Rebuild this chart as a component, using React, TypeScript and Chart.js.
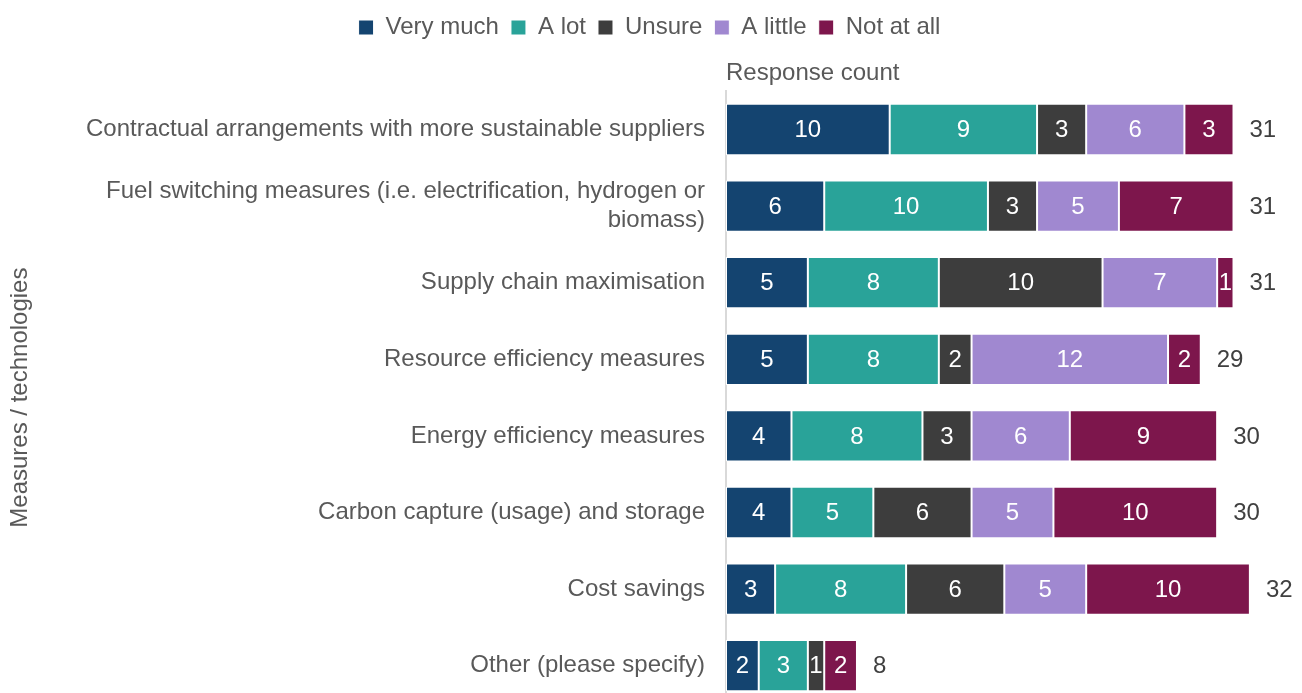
import React, { useEffect, useRef } from "react";
import { Chart, registerables } from "chart.js";

Chart.register(...registerables);

const FONT = "'Liberation Sans', Arial, sans-serif";
const FONT_SIZE = 24;

const categories: (string | string[])[] = [
  "Contractual arrangements with more sustainable suppliers",
  ["Fuel switching measures (i.e. electrification, hydrogen or", "biomass)"],
  "Supply chain maximisation",
  "Resource efficiency measures",
  "Energy efficiency measures",
  "Carbon capture (usage) and storage",
  "Cost savings",
  "Other (please specify)",
];

const seriesNames = ["Very much", "A lot", "Unsure", "A little", "Not at all"];
const veryMuch = [10, 6, 5, 5, 4, 4, 3, 2];
const aLot = [9, 10, 8, 8, 8, 5, 8, 3];
const unsure = [3, 3, 10, 2, 3, 6, 6, 1];
const aLittle = [6, 5, 7, 12, 6, 5, 5, 0];
const notAtAll = [3, 7, 1, 2, 9, 10, 10, 2];
const seriesColors = ["#144470", "#29A399", "#3D3D3D", "#A088D0", "#7D164C"];

const xAxisTitle = "Response count";
const yAxisTitle = "Measures / technologies";

// Segment values inside each bar and the row total after it
const valueLabels = {
  id: "valueLabels",
  afterDatasetsDraw(chart: any) {
    const ctx = chart.ctx;
    ctx.save();
    ctx.font = `${FONT_SIZE}px ${FONT}`;
    ctx.textBaseline = "middle";
    ctx.textAlign = "center";
    ctx.fillStyle = "#ffffff";
    chart.data.datasets.forEach((ds: any, di: number) => {
      const meta = chart.getDatasetMeta(di);
      meta.data.forEach((bar: any, i: number) => {
        const v = ds.data[i];
        if (!v) return;
        ctx.fillText(String(v), (bar.x + bar.base) / 2, bar.y + 1);
      });
    });
    const xScale = chart.scales.x;
    const firstMeta = chart.getDatasetMeta(0);
    ctx.textAlign = "left";
    ctx.fillStyle = "#404040";
    chart.data.labels.forEach((_: any, i: number) => {
      let total = 0;
      chart.data.datasets.forEach((ds: any) => {
        total += ds.data[i] || 0;
      });
      const y = firstMeta.data[i].y;
      ctx.fillText(String(total), xScale.getPixelForValue(total) + 16, y + 1);
    });
    ctx.restore();
  },
};

export default function App() {
  const canvasRef = useRef<HTMLCanvasElement | null>(null);

  useEffect(() => {
    if (!canvasRef.current) return;
    const series = [veryMuch, aLot, unsure, aLittle, notAtAll];
    const chart = new Chart(canvasRef.current, {
      type: "bar",
      data: {
        labels: categories,
        datasets: series.map((data, i) => ({
          label: seriesNames[i],
          data,
          backgroundColor: seriesColors[i],
          borderColor: "#ffffff",
          borderWidth: 1,
          borderSkipped: false,
          barPercentage: 0.67,
          categoryPercentage: 1,
        })),
      },
      options: {
        indexAxis: "y",
        responsive: false,
        animation: false,
        layout: { padding: { top: 3.5, right: 3, bottom: 0, left: 0 } },
        plugins: {
          legend: {
            position: "top",
            labels: {
              boxWidth: 15,
              boxHeight: 15,
              padding: 12,
              color: "#595959",
              font: { family: FONT, size: FONT_SIZE },
            },
          },
          tooltip: { enabled: false },
        },
        scales: {
          x: {
            position: "top",
            stacked: true,
            min: 0,
            max: 35,
            grid: { display: false, drawTicks: false },
            border: { display: false },
            ticks: { display: false },
            title: {
              display: true,
              text: xAxisTitle,
              align: "start",
              color: "#595959",
              font: { family: FONT, size: FONT_SIZE },
              padding: { top: 9.6, bottom: 3.3 },
            },
          },
          y: {
            stacked: true,
            grid: { display: false, drawTicks: false },
            border: { display: true, color: "#D9D9D9", width: 2 },
            ticks: {
              color: "#595959",
              padding: 21,
              font: { family: FONT, size: FONT_SIZE },
            },
            title: {
              display: true,
              text: yAxisTitle,
              color: "#595959",
              font: { family: FONT, size: FONT_SIZE },
              padding: { top: 6, bottom: 0 },
            },
            afterFit(scale: any) {
              scale.width = 726;
              scale.paddingTop = 0;
              scale.paddingBottom = 0;
            },
          },
        },
      },
      plugins: [valueLabels],
    } as any);
    return () => chart.destroy();
  }, []);

  return (
    <div
      style={{
        position: "absolute",
        left: 0,
        top: 0,
        width: 1302,
        height: 693,
        overflow: "hidden",
        background: "#ffffff",
      }}
    >
      <canvas ref={canvasRef} width={1302} height={704} />
    </div>
  );
}
